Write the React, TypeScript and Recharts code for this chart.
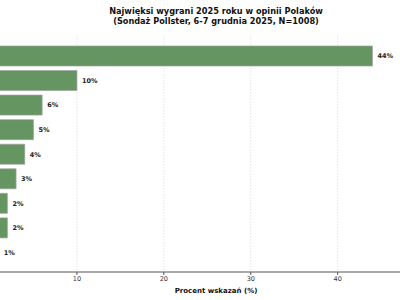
import { BarChart, Bar, XAxis, YAxis, CartesianGrid, LabelList } from "recharts"

// Category names are cut off in the reference (outside the left edge)
const categories = ["Pozycja 1", "Pozycja 2", "Pozycja 3", "Pozycja 4", "Pozycja 5", "Pozycja 6", "Pozycja 7", "Pozycja 8", "Pozycja 9"]
const percents = [44, 10, 6, 5, 4, 3, 2, 2, 1]
const xTicks = [0, 10, 20, 30, 40]

const data = categories.map((name, i) => ({ name, value: percents[i] }))

const font = "'DejaVu Sans', sans-serif"

export default function App() {
  return (
    <div style={{ position: "fixed", left: 0, top: 0, width: 400, height: 300, overflow: "hidden", background: "#fff", fontFamily: font }}>
      <div style={{ position: "absolute", left: -10, top: 0 }}>
        <BarChart
          width={452}
          height={300}
          data={data}
          layout="vertical"
          margin={{ top: 35, right: 0, bottom: 0, left: 0 }}
          barSize={20}
        >
          <CartesianGrid horizontal={false} stroke="#e4e4e4" strokeDasharray="1.5 1.5" />
          <XAxis
            type="number"
            domain={[0, 52]}
            ticks={xTicks}
            height={28}
            axisLine={{ stroke: "#555", strokeWidth: 1 }}
            tickLine={{ stroke: "#555" }}
            tickSize={3}
            tickMargin={1}
            tick={{ fontSize: 6.5, fill: "#333", fontFamily: font }}
            label={{ value: "Procent wskazań (%)", position: "insideBottom", offset: 7, fontSize: 7, fontWeight: "bold", fill: "#111", fontFamily: font }}
          />
          <YAxis type="category" dataKey="name" hide padding={{ top: 9, bottom: 7 }} />
          <Bar dataKey="value" fill="#659560" stroke="#a0a0a0" strokeWidth={0.7} isAnimationActive={false}>
            <LabelList
              dataKey="value"
              position="right"
              offset={5}
              formatter={(v: any) => `${v}%`}
              style={{ fontSize: 6.5, fontWeight: "bold", fill: "#222", fontFamily: font }}
            />
          </Bar>
        </BarChart>
        <div style={{ position: "absolute", left: 0, top: 6, width: 452, textAlign: "center", fontSize: 8.2, lineHeight: "10px", fontWeight: "bold", color: "#111" }}>
          Najwięksi wygrani 2025 roku w opinii Polaków
          <br />
          (Sondaż Pollster, 6-7 grudnia 2025, N=1008)
        </div>
      </div>
    </div>
  )
}
